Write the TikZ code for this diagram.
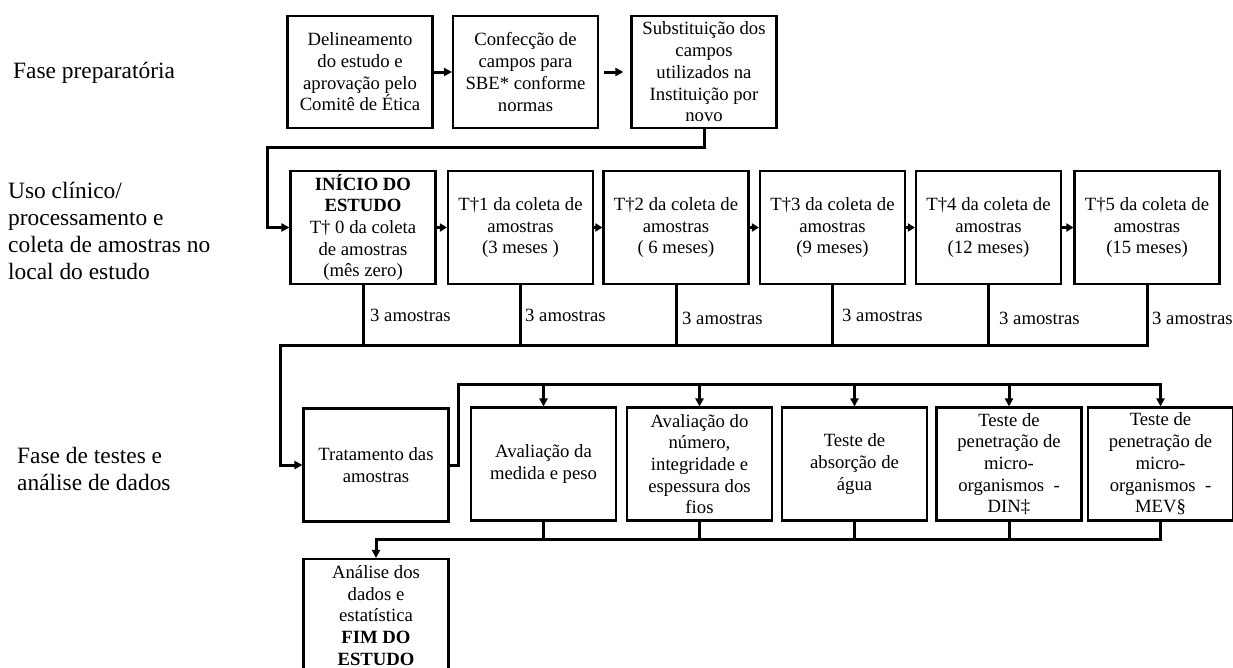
\documentclass[tikz,border=0pt]{standalone}
\usepackage{fontspec}
\setmainfont{Liberation Serif}
\usetikzlibrary{arrows.meta}
\tikzset{
  box/.style={draw, line width=2.1pt, minimum width=145pt, minimum height=113pt, inner sep=0pt, align=center, font=\fontsize{18.7}{21.7}\selectfont},
  phase/.style={anchor=west, align=left, inner sep=0pt, font=\fontsize{23.4}{27.3}\selectfont},
  lbl/.style={anchor=west, inner sep=0pt, font=\fontsize{18.7}{21.7}\selectfont},
  conn/.style={line width=3pt},
  arr/.style={line width=3pt, -{Triangle[length=8pt,width=8pt]}},
  sarr/.style={line width=2.4pt, -{Triangle[length=7pt,width=8pt]}}
}
\begin{document}
\begin{tikzpicture}[x=1pt,y=-1pt]
\useasboundingbox (0,0) rectangle (1233,667);
% phase labels
\node[phase] (p1) at (13,73) {Fase preparatória};
\node[phase] (p2) at (8,231) {Uso clínico/\\processamento e\\coleta de amostras no\\local do estudo};
\node[phase] (p3) at (17,469) {Fase de testes e\\análise de dados};
% row 1
\node[box, minimum height=112pt] (A) at (360,72) {Delineamento\\do estudo e\\aprovação pelo\\Comitê de Ética};
\node[box, minimum height=112pt] (B) at (525.5,72) {Confecção de\\campos para\\SBE* conforme\\normas};
\node[box, minimum height=112pt] (C) at (704,72) {Substituição dos\\campos\\utilizados na\\Instituição por\\novo};
% row 2
\node[box] (T0) at (363,227.5) {\textbf{INÍCIO DO}\\\textbf{ESTUDO}\\T† 0 da coleta\\de amostras\\(mês zero)};
\node[box] (T1) at (520.5,227.5) {T†1 da coleta de\\amostras\\(3 meses )};
\node[box] (T2) at (676,227.5) {T†2 da coleta de\\amostras\\( 6 meses)};
\node[box] (T3) at (832.5,227.5) {T†3 da coleta de\\amostras\\(9 meses)};
\node[box] (T4) at (988.5,227.5) {T†4 da coleta de\\amostras\\(12 meses)};
\node[box] (T5) at (1147,227.5) {T†5 da coleta de\\amostras\\(15 meses)};
% sample labels
\node[lbl] (s0) at (370,315) {3 amostras};
\node[lbl] (s1) at (525,315) {3 amostras};
\node[lbl] (s2) at (682,318) {3 amostras};
\node[lbl] (s3) at (842,315) {3 amostras};
\node[lbl] (s4) at (999,318) {3 amostras};
\node[lbl] (s5) at (1152,318) {3 amostras};
% row 3
\node[box] (Tr) at (376,465) {Tratamento das\\amostras};
\node[box] (Me) at (543.5,464) {Avaliação da\\medida e peso};
\node[box] (Nu) at (699.5,464) {Avaliação do\\número,\\integridade e\\espessura dos\\fios};
\node[box] (Ab) at (854.5,464) {Teste de\\absorção de\\água};
\node[box] (Di) at (1009,464) {Teste de\\penetração de\\micro-\\organismos\ \ -\\DIN‡};
\node[box] (Mv) at (1160.5,464) {Teste de\\penetração de\\micro-\\organismos\ \ -\\MEV§};
% final
\node[box] (An) at (376,615.5) {Análise dos\\dados e\\estatística\\\textbf{FIM DO}\\\textbf{ESTUDO}};
% coordinates
\coordinate (k1) at (267,147);
\coordinate (b1) at (280,345);
\coordinate (tb) at (458,384);
\coordinate (bb) at (376,539);
% row 1 connectors
\draw[arr] (A) -- (B);
\draw[arr, shorten <=5pt, shorten >=7pt] (B) -- (C);
\draw[arr] (C.south) |- (k1) |- (T0.west);
% row 2 connectors
\draw[sarr] (T0) -- (T1);
\draw[sarr] (T1) -- (T2);
\draw[sarr] (T2) -- (T3);
\draw[sarr] (T3) -- (T4);
\draw[sarr] (T4) -- (T5);
\draw[arr] (T5.south) |- (b1) |- (Tr.west);
\foreach \n in {T0,T1,T2,T3,T4} \draw[conn] (\n.south) -- (\n.south |- b1);
% row 3 connectors
\draw[arr] (Tr.east) -| (tb) -| (Mv.north);
\foreach \n in {Me,Nu,Ab,Di} \draw[arr] (\n.north |- tb) -- (\n.north);
\draw[arr] (Mv.south) |- (bb) -- (An.north);
\foreach \n in {Me,Nu,Ab,Di} \draw[conn] (\n.south) -- (\n.south |- bb);
\end{tikzpicture}
\end{document}
